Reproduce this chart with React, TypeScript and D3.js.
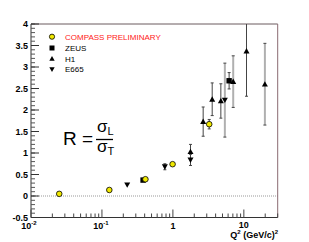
import React from "react";
import * as d3 from "d3";

const compassQ2 = [0.025, 0.127, 0.41, 0.99, 3.25];
const compassR = [0.05, 0.14, 0.39, 0.74, 1.67];
const compassErr = [0, 0, 0, 0, 0.11];

const zeusQ2 = [0.38, 6.2];
const zeusR = [0.37, 2.68];
const zeusErr = [0, 0.19];

const h1Q2 = [1.77, 2.67, 3.58, 4.74, 7.08, 10.9, 19.8];
const h1R = [1.03, 1.73, 2.25, 2.21, 2.66, 3.37, 2.6];
const h1Err = [0.17, 0.34, 0.38, 0.4, 0.6, 1.05, 0.95];
const h1ErrGray = [false, false, false, false, true, false, true];

const e665Q2 = [0.227, 0.77, 1.77, 5.4];
const e665R = [0.26, 0.68, 0.84, 2.23];
const e665Err = [0, 0.07, 0.13, 0.86];
const e665ErrGray = [false, false, false, true];

const yTicks = [-0.5, 0, 0.5, 1, 1.5, 2, 2.5, 3, 3.5, 4];
const legendLabels = ["COMPASS PRELIMINARY", "ZEUS", "H1", "E665"];

export default function App() {
  const W = 309, H = 242;
  const L = 31, R = 277.7, T = 24, B = 217.5;
  const x = d3.scaleLog().domain([0.01, 30]).range([L, R]);
  const y = d3.scaleLinear().domain([-0.5, 4]).range([B, T]);
  const font = "'Liberation Sans', Arial, Helvetica, sans-serif";

  const minorY = d3.range(-0.5, 4.0001, 0.1);
  const minorX: number[] = [];
  for (let e = -2; e <= 1; e++) {
    for (let k = 1; k <= 9; k++) {
      const v = k * Math.pow(10, e);
      if (v <= 30) minorX.push(v);
    }
  }

  const errBar = (q: number, r: number, e: number, gray: boolean, key: string) => {
    if (!e) return null;
    const top = Math.max(y(r + e), T);
    const bot = Math.min(y(r - e), B);
    const cx = x(q);
    const col = gray ? "#b0b0b0" : "#444";
    return (
      <g key={key}>
        <line x1={cx} x2={cx} y1={top} y2={bot} stroke={col} strokeWidth={gray ? 2 : 1} />
        {y(r + e) > T && <line x1={cx - 1.5} x2={cx + 1.5} y1={top} y2={top} stroke="#444" strokeWidth={1} />}
        <line x1={cx - 1.5} x2={cx + 1.5} y1={bot} y2={bot} stroke="#444" strokeWidth={1} />
      </g>
    );
  };

  const triUp = (cx: number, cy: number, s = 3) =>
    `M${cx},${cy - s} L${cx + s},${cy + s * 0.8} L${cx - s},${cy + s * 0.8} Z`;
  const triDown = (cx: number, cy: number, s = 3) =>
    `M${cx},${cy + s} L${cx + s},${cy - s * 0.8} L${cx - s},${cy - s * 0.8} Z`;

  return (
    <svg width={W} height={H} style={{ position: "absolute", left: 0, top: 0 }} fontFamily={font}>
      <rect x={0} y={0} width={W} height={H} fill="#fff" />
      {/* zero line */}
      <line x1={L} x2={R} y1={y(0)} y2={y(0)} stroke="#999" strokeDasharray="1,1" strokeWidth={1} />
      {/* frame */}
      <line x1={L} x2={R} y1={T} y2={T} stroke="#6a5a5f" />
      <line x1={R} x2={R} y1={T} y2={B} stroke="#8a6a72" />
      <line x1={L} x2={L} y1={T} y2={B} stroke="#333" />
      <line x1={L} x2={R} y1={B} y2={B} stroke="#333" />
      {/* y ticks */}
      {minorY.map((v, i) => (
        <line key={"my" + i} x1={L} x2={L + 4} y1={y(v)} y2={y(v)} stroke="#555" />
      ))}
      {yTicks.map((v) => (
        <g key={"y" + v}>
          <line x1={L} x2={L + 8} y1={y(v)} y2={y(v)} stroke="#333" />
          <text x={L - 3} y={y(v) + 3} fontSize={9} fontWeight="bold" textAnchor="end" fill="#000">
            {v}
          </text>
        </g>
      ))}
      {/* x ticks */}
      {minorX.map((v, i) => {
        const major = Math.abs(Math.log10(v) - Math.round(Math.log10(v))) < 1e-9;
        return (
          <line key={"mx" + i} x1={x(v)} x2={x(v)} y1={B} y2={B - (major ? 8 : 4)} stroke="#444" />
        );
      })}
      <text x={x(0.01) - 2} y={229} fontSize={9} fontWeight="bold" textAnchor="middle">
        10<tspan dy={-4} fontSize={6}>-2</tspan>
      </text>
      <text x={x(0.1) - 1} y={229} fontSize={9} fontWeight="bold" textAnchor="middle">
        10<tspan dy={-4} fontSize={6}>-1</tspan>
      </text>
      <text x={x(1)} y={229} fontSize={9} fontWeight="bold" textAnchor="middle">1</text>
      <text x={x(10)} y={228} fontSize={9} fontWeight="bold" textAnchor="middle">10</text>
      <text x={278} y={238} fontSize={9} fontWeight="bold" textAnchor="end">
        Q<tspan dy={-4} fontSize={6}>2</tspan><tspan dy={4}> (GeV/c)</tspan><tspan dy={-4} fontSize={6}>2</tspan>
      </text>

      {/* formula */}
      <text x={63} y={145} fontSize={19} fill="#000">R =</text>
      <text x={97} y={132} fontSize={17} fill="#000">σ<tspan fontSize={11} dy={3}>L</tspan></text>
      <line x1={96} x2={113} y1={139.5} y2={139.5} stroke="#000" strokeWidth={1.3} />
      <text x={97} y={152} fontSize={17} fill="#000">σ<tspan fontSize={11} dy={3}>T</tspan></text>

      {/* error bars */}
      {e665Q2.map((q, i) => errBar(q, e665R[i], e665Err[i], e665ErrGray[i], "ee" + i))}
      {h1Q2.map((q, i) => errBar(q, h1R[i], h1Err[i], h1ErrGray[i], "he" + i))}
      {zeusQ2.map((q, i) => errBar(q, zeusR[i], zeusErr[i], false, "ze" + i))}
      {compassQ2.map((q, i) => errBar(q, compassR[i], compassErr[i], false, "ce" + i))}

      {/* markers */}
      {e665Q2.map((q, i) => (
        <path key={"e" + i} d={triDown(x(q), y(e665R[i]))} fill="#000" />
      ))}
      {h1Q2.map((q, i) => (
        <path key={"h" + i} d={triUp(x(q), y(h1R[i]))} fill="#000" />
      ))}
      {zeusQ2.map((q, i) => (
        <rect key={"z" + i} x={x(q) - 2.7} y={y(zeusR[i]) - 2.7} width={5.4} height={5.4} fill="#000" />
      ))}
      {compassQ2.map((q, i) => (
        <circle key={"c" + i} cx={x(q)} cy={y(compassR[i])} r={2.8} fill="#f0e800" stroke="#000" strokeWidth={0.8} />
      ))}

      {/* legend */}
      <circle cx={52} cy={36.7} r={2.6} fill="#f0e800" stroke="#000" strokeWidth={0.8} />
      <rect x={49.5} y={45.5} width={5} height={5} fill="#000" />
      <path d={triUp(52, 58.7, 2.7)} fill="#000" />
      <path d={triDown(52, 69.3, 2.7)} fill="#000" />
      {legendLabels.map((t, i) => (
        <text key={t} x={65} y={[36.7, 48, 58.7, 69.3][i] + 3} fontSize={8} fill={i === 0 ? "#ff2020" : "#000"}>
          {t}
        </text>
      ))}
    </svg>
  );
}
